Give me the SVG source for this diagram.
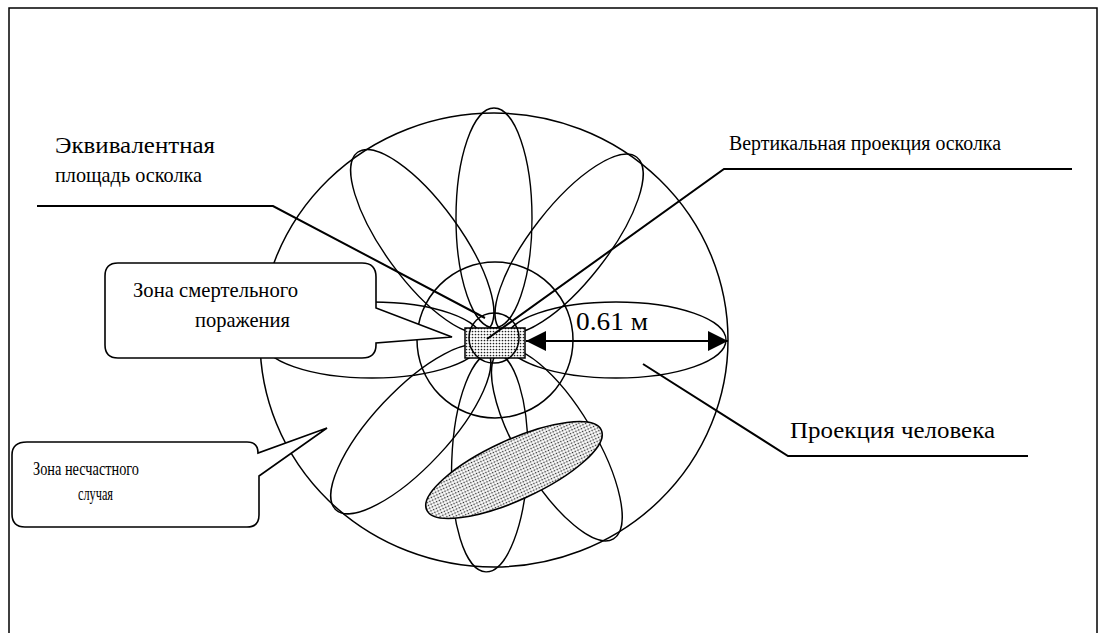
<svg xmlns="http://www.w3.org/2000/svg" width="1106" height="633" viewBox="0 0 1106 633">
<defs>
<pattern id="dots" width="3" height="3" patternUnits="userSpaceOnUse"><rect width="3" height="3" fill="#fff"/><circle cx="1.5" cy="1.5" r="0.85" fill="#222"/></pattern>
<marker id="ah" markerUnits="userSpaceOnUse" markerWidth="20" markerHeight="20" refX="20" refY="10" orient="auto-start-reverse"><path d="M0,0 L20,10 L0,20 Z" fill="#000"/></marker>
<style>
.ln{fill:none;stroke:#000;stroke-width:1.5}
.pt{fill:none;stroke:#000;stroke-width:1.4}
.ld{fill:none;stroke:#000;stroke-width:2}
.co{fill:#fff;stroke:#000;stroke-width:1.6}
.tx{font-family:"Liberation Serif","DejaVu Serif",serif;fill:#000}
</style>
</defs>
<rect x="9" y="8" width="1088" height="640" fill="none" stroke="#000" stroke-width="1.5"/>
<g id="outer-zone"><ellipse class="ln" cx="494" cy="340" rx="234" ry="227"/></g>
<g id="inner-zone"><circle class="ln" cx="495" cy="340" r="78"/></g>
<g id="petals">
<ellipse class="pt" cx="616" cy="340" rx="110" ry="38" transform="rotate(0 494 340)"/>
<ellipse class="pt" cx="616" cy="340" rx="110" ry="38" transform="rotate(59 494 340)"/>
<ellipse class="pt" cx="616" cy="340" rx="110" ry="38" transform="rotate(92 494 340)"/>
<ellipse class="pt" cx="616" cy="340" rx="110" ry="38" transform="rotate(133 494 340)"/>
<ellipse class="pt" cx="616" cy="340" rx="110" ry="38" transform="rotate(180 494 340)"/>
<ellipse class="pt" cx="616" cy="340" rx="110" ry="38" transform="rotate(234 494 340)"/>
<ellipse class="pt" cx="616" cy="340" rx="110" ry="38" transform="rotate(270 494 340)"/>
<ellipse class="pt" cx="616" cy="340" rx="110" ry="38" transform="rotate(308 494 340)"/>
</g>
<g id="human-projection"><ellipse cx="514" cy="470" rx="96" ry="30" transform="rotate(-24.6 514 470)" fill="url(#dots)" stroke="#000" stroke-width="1.6"/></g>
<g id="fragment-area"><rect x="465" y="328" width="60" height="30" fill="url(#dots)" stroke="#000" stroke-width="1.5"/></g>
<g id="fragment-projection"><circle class="ln" cx="494" cy="338" r="25"/></g>
<g id="connectors">
<polyline class="ld" points="37,206 273,206 485,318"/>
<polyline class="ld" points="1072,169 724,169 487,339"/>
<polyline class="ld" points="1028,456 788,456 643,364"/>
<line x1="526" y1="341" x2="728" y2="341" stroke="#000" stroke-width="2" marker-start="url(#ah)" marker-end="url(#ah)"/>
</g>
<g id="callout-lethal">
<path class="co" d="M118,263 H362 Q376,263 376,277 V308 L452,337 L376,343 V345 Q376,358 362,358 H118 Q105,358 105,345 V276 Q105,263 118,263 Z"/>
<text class="tx" x="133" y="297" font-size="21" textLength="165" lengthAdjust="spacingAndGlyphs">Зона смертельного</text>
<text class="tx" x="195" y="327" font-size="21" textLength="95" lengthAdjust="spacingAndGlyphs">поражения</text>
</g>
<g id="callout-accident">
<path class="co" d="M27,442 H247 Q258,442 258,453 L327,428 L259,476 V515 Q259,527 247,527 H25 Q12,527 12,514 V455 Q12,442 27,442 Z"/>
<text class="tx" x="33" y="475" font-size="19" textLength="106" lengthAdjust="spacingAndGlyphs">Зона несчастного</text>
<text class="tx" x="78" y="500" font-size="19" textLength="35" lengthAdjust="spacingAndGlyphs">случая</text>
</g>
<g id="label-equivalent">
<text class="tx" x="55" y="153" font-size="23" textLength="160" lengthAdjust="spacingAndGlyphs">Эквивалентная</text>
<text class="tx" x="55" y="182" font-size="21" textLength="147" lengthAdjust="spacingAndGlyphs">площадь осколка</text>
</g>
<g id="label-vertical"><text class="tx" x="729" y="150" font-size="20" textLength="272" lengthAdjust="spacingAndGlyphs">Вертикальная проекция осколка</text></g>
<g id="label-human"><text class="tx" x="790" y="438" font-size="23" textLength="205" lengthAdjust="spacingAndGlyphs">Проекция человека</text></g>
<g id="label-distance"><text class="tx" x="576" y="330" font-size="25" textLength="72" lengthAdjust="spacingAndGlyphs">0.61 м</text></g>
</svg>
